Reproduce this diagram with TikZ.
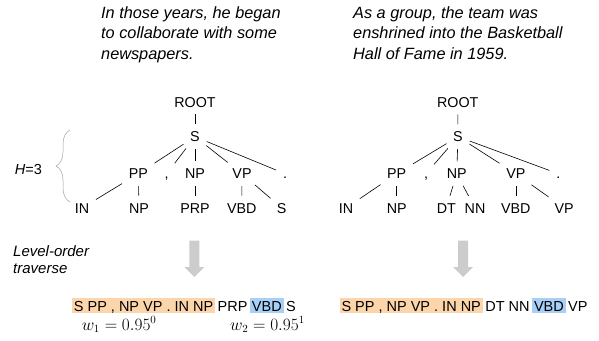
\documentclass[tikz,border=0pt]{standalone}
\usepackage[no-math]{fontspec}
\setmainfont{Liberation Sans}
\usetikzlibrary{decorations.pathreplacing,positioning}
\definecolor{seqorange}{HTML}{FCD5AA}
\definecolor{seqblue}{HTML}{A8CFF5}
\definecolor{arrowgray}{HTML}{CCCCCC}
\definecolor{bracegray}{HTML}{A0A0A0}
\begin{document}
\begin{tikzpicture}[x=1pt,y=-1pt,
  tag/.style={font=\fontsize{14.3}{16}\selectfont, text height=10.3pt, text depth=0pt, inner sep=4pt},
  edge/.style={line width=0.6pt, shorten <=3pt, shorten >=3pt},
  sent/.style={font=\fontsize{16.3}{20.5}\selectfont\itshape, align=left, inner sep=0pt, anchor=base west},
  note/.style={font=\fontsize{15}{16.5}\selectfont\itshape, align=left, inner sep=0pt, anchor=base west},
  word/.style={font=\fontsize{14.5}{16}\selectfont, text height=12pt, text depth=1pt, inner ysep=1pt, inner xsep=2pt},
  weight/.style={font=\fontsize{16}{19}\selectfont, inner sep=0pt, anchor=base west},
  bigarrow/.style={fill=arrowgray}
]
\useasboundingbox (0,0) rectangle (599,340);

% sentences (base anchor = baseline of the last line)
\node[sent] (sentA) at (101,59.3) {In those years, he began\\to collaborate with some\\newspapers.};
\node[sent] (sentB) at (353,59.3) {As a group, the team was\\enshrined into the Basketball\\Hall of Fame in 1959.};

% tree 1
\node[tag] (root1) at (195,102) {ROOT};
\node[tag] (s1) at (195,136.7) {S};
\node[tag] (pp1) at (138.3,173.7) {PP};
\node[tag] (c1) at (166.7,173.7) {,};
\node[tag] (np1) at (195,173.7) {NP};
\node[tag] (vp1) at (242,173.7) {VP};
\node[tag] (p1) at (285,173.7) {.};
\node[tag] (in1) at (82,208) {IN};
\node[tag] (npb1) at (139,208) {NP};
\node[tag] (prp1) at (195,208) {PRP};
\node[tag] (vbd1) at (241.7,208) {VBD};
\node[tag] (sb1) at (281.7,208) {S};
\draw[edge] (root1) -- (s1);
\foreach \t in {pp1,c1,np1,vp1,p1} \draw[edge] (s1) -- (\t);
\draw[edge] (pp1) -- (in1);
\draw[edge] (pp1) -- (npb1);
\draw[edge] (np1) -- (prp1);
\draw[edge] (vp1) -- (vbd1);
\draw[edge] (vp1) -- (sb1);

% tree 2
\node[tag] (root2) at (457.8,102) {ROOT};
\node[tag] (s2) at (458,136.7) {S};
\node[tag] (pp2) at (396.7,173.7) {PP};
\node[tag] (c2) at (426,173.7) {,};
\node[tag] (np2) at (456.7,173.7) {NP};
\node[tag] (vp2) at (515.8,173.7) {VP};
\node[tag] (p2) at (558.3,173.7) {.};
\node[tag] (in2) at (346,208) {IN};
\node[tag] (npb2) at (396.7,208) {NP};
\node[tag] (dt2) at (446.3,208) {DT};
\node[tag] (nn2) at (475,208) {NN};
\node[tag] (vbd2) at (515.8,208) {VBD};
\node[tag] (vpb2) at (564.2,208) {VP};
\draw[edge] (root2) -- (s2);
\foreach \t in {pp2,c2,np2,vp2,p2} \draw[edge] (s2) -- (\t);
\draw[edge] (pp2) -- (in2);
\draw[edge] (pp2) -- (npb2);
\draw[edge] (np2) -- (dt2);
\draw[edge] (np2) -- (nn2);
\draw[edge] (vp2) -- (vbd2);
\draw[edge] (vp2) -- (vpb2);

% height brace
\coordinate (brB) at (70,202);
\coordinate (brT) at (70,130);
\draw[bracegray, line width=0.5pt, decorate, decoration={brace, amplitude=14pt}] (brB) -- (brT);
\node[font=\fontsize{14.5}{16}\selectfont, inner sep=0pt] (hlab) at (28.5,170) {\textit{H}=3};

% level-order label
\node[note] (lvl) at (13,273.2) {Level-order\\traverse};

% big arrows
\coordinate (a1s) at (194.3,240.7);
\coordinate (a1e) at (194.3,277);
\fill[bigarrow] (a1s) ++(-5,0) -- ++(0,26.3) -- ++(-5,0) -- (a1e) -- ++(10,-10) -- ++(-5,0) -- ++(0,-26.3) -- cycle;
\coordinate (a2s) at (463,240.7);
\coordinate (a2e) at (463,277);
\fill[bigarrow] (a2s) ++(-5,0) -- ++(0,26.3) -- ++(-5,0) -- (a2e) -- ++(10,-10) -- ++(-5,0) -- ++(0,-26.3) -- cycle;

% sequences
\node[word, fill=seqorange, anchor=west] (o1) at (71.7,305.5) {S PP , NP VP . IN NP};
\node[word, right=0pt of o1] (q1) {PRP};
\node[word, fill=seqblue, right=0pt of q1] (b1) {VBD};
\node[word, right=0pt of b1] (r1) {S};

\node[word, fill=seqorange, anchor=west] (o2) at (339.3,305.5) {S PP , NP VP . IN NP};
\node[word, right=0pt of o2] (q2) {DT NN};
\node[word, fill=seqblue, right=0pt of q2] (b2) {VBD};
\node[word, right=0pt of b2] (r2) {VP};

% weights
\node[weight] (w1) at (81.7,330) {$w_1 = 0.95^0$};
\node[weight] (w2) at (230,330) {$w_2 = 0.95^1$};
\end{tikzpicture}
\end{document}
